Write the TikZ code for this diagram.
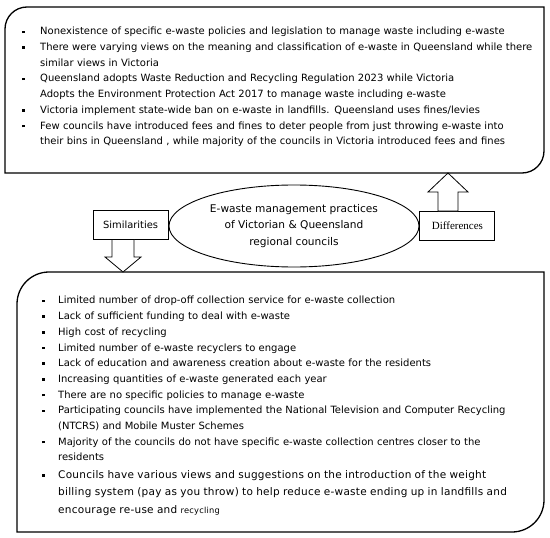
\documentclass[tikz,border=0pt]{standalone}
\usepackage{fontspec}
\setmainfont{DejaVu Sans}
\newfontfamily\widefont[LetterSpace=2.5]{DejaVu Sans}
\newfontfamily\seriffont{Liberation Serif}
\usepackage{enumitem}
\usetikzlibrary{shapes.geometric, positioning, calc}
\newcommand{\sqbullet}{\rule[1.8pt]{2.5pt}{2.5pt}}
\tikzset{
    panel/.style={
        draw=black,
        line width=1.3pt
    },
    points/.style={
        anchor=north west,
        inner sep=0pt,
        text width=515pt,
        align=left,
        font=\fontsize{10pt}{15.7pt}\selectfont
    },
    hub/.style={
        ellipse,
        draw=black,
        line width=0.9pt,
        minimum width=250pt,
        minimum height=82pt,
        inner sep=0pt,
        align=center,
        font=\fontsize{10.6pt}{16.5pt}\selectfont
    },
    tagbox/.style={
        rectangle,
        draw=black,
        line width=1pt,
        minimum width=75pt,
        minimum height=29pt,
        inner sep=2pt
    },
    blockarrow/.style={
        draw=black,
        line width=0.8pt,
        fill=white
    }
}

\begin{document}
\begin{tikzpicture}[x=1pt, y=-1pt]
\useasboundingbox (0,0) rectangle (550,538);

% Panels (rounded top-left and bottom-right only)
\draw[panel] (5,173) [rounded corners=22pt] -- (5,7) [sharp corners] -- (544,7) [rounded corners=22pt] -- (544,173) [sharp corners] -- (5,173) -- cycle;
\draw[panel] (17,532) [rounded corners=32pt] -- (17,272) [sharp corners] -- (544,272) [rounded corners=32pt] -- (544,532) [sharp corners] -- (17,532) -- cycle;

% Differences list
\node[points] (difflist) at (22,19) {%
\begin{itemize}[leftmargin=18pt, labelsep=15.5pt, itemsep=0pt, topsep=0pt, parsep=0pt, partopsep=0pt, label=\sqbullet]
\item Nonexistence of specific e-waste policies and legislation to manage waste including e-waste
\item There were varying views on the meaning and classification of e-waste in Queensland while there\\ similar views in Victoria
\item Queensland adopts Waste Reduction and Recycling Regulation 2023 while Victoria\\ Adopts the Environment Protection Act 2017 to manage waste including e-waste
\item Victoria implement state-wide ban on e-waste in landfills. Queensland uses fines/levies
\item Few councils have introduced fees and fines to deter people from just throwing e-waste into\\ their bins in Queensland , while majority of the councils in Victoria introduced fees and fines
\end{itemize}};

% Centre
\node[hub] (hub) at (294,226) {E-waste management practices\\ of Victorian \& Queensland\\ regional councils};
\node[tagbox, left=0pt of hub, yshift=1.5pt, font=\fontsize{9.9pt}{12pt}\selectfont] (sim) {Similarities};
\node[tagbox, right=0pt of hub, yshift=0pt, font=\seriffont\fontsize{11pt}{12pt}\selectfont] (diff) {Differences};

% Similarities list
\node[points] (simlist) at (42,288) {%
\begin{itemize}[leftmargin=16pt, labelsep=13.5pt, itemsep=0pt, topsep=0pt, parsep=0pt, partopsep=0pt, label=\sqbullet]
\item Limited number of drop-off collection service for e-waste collection
\item Lack of sufficient funding to deal with e-waste
\item High cost of recycling
\item Limited number of e-waste recyclers to engage
\item Lack of education and awareness creation about e-waste for the residents
\item Increasing quantities of e-waste generated each year
\item There are no specific policies to manage e-waste
\item Participating councils have implemented the National Television and Computer Recycling\\ (NTCRS) and Mobile Muster Schemes
\item Majority of the councils do not have specific e-waste collection centres closer to the\\ residents
\item {\widefont\fontsize{10.5pt}{17.5pt}\selectfont Councils have various views and suggestions on the introduction of the weight\\ billing system (pay as you throw) to help reduce e-waste ending up in landfills and\\ encourage re-use and {\fontsize{8.3pt}{17.5pt}\selectfont recycling}\par}
\end{itemize}};

% Arrow ends on the panels
\coordinate (simtip) at (123,272);
\coordinate (difftip) at (448,173);

% Block arrows
\draw[blockarrow] (simtip) -- ++(-18,-15) -- ++(7,0) -- ($(simtip |- sim.south)+(-11,0)$) -- ++(22,0) -- ($(simtip)+(11,-15)$) -- ++(7,0) -- cycle;
\draw[blockarrow] (difftip) -- ++(-20,19) -- ++(10,0) -- ($(difftip |- diff.north)+(-10,0)$) -- ++(20,0) -- ($(difftip)+(10,19)$) -- ++(10,0) -- cycle;

\end{tikzpicture}
\end{document}
